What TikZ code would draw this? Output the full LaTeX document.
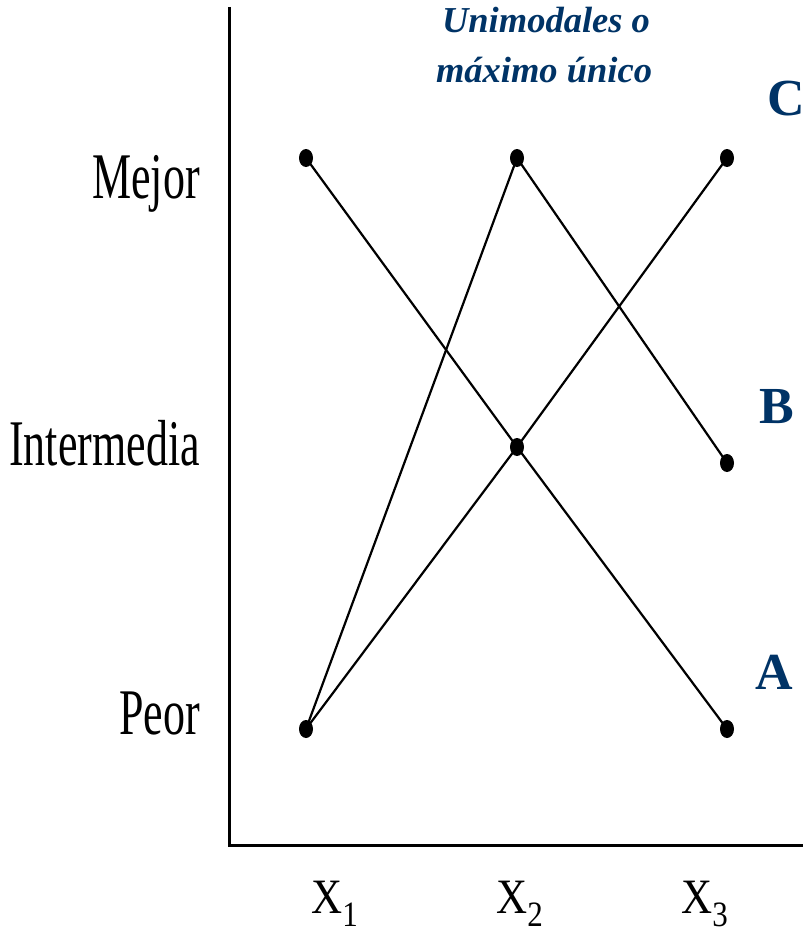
\documentclass[tikz,border=0pt]{standalone}
\usepackage{fontspec}
\setmainfont{Liberation Serif}
\usetikzlibrary{shapes.geometric}
\definecolor{titleblue}{RGB}{0,51,102}
\tikzset{
  dot/.style={ellipse,fill=black,inner sep=0pt,minimum width=14pt,minimum height=18pt},
  link/.style={line width=2.2pt},
  axisline/.style={line width=3pt},
  ylab/.style={anchor=base east,inner sep=0pt},
  xlab/.style={anchor=base west,inner sep=0pt},
  series/.style={anchor=base west,inner sep=0pt,text=titleblue,font=\fontsize{52}{52}\selectfont\bfseries},
  head/.style={anchor=base,inner sep=0pt,text=titleblue,font=\fontsize{36.5}{36.5}\selectfont\bfseries\itshape}
}
\newcommand{\ylabtext}[1]{\scalebox{1}[1.48]{\fontsize{44}{44}\selectfont #1}}
\newcommand{\xlabtext}[1]{\scalebox{1}[1.15]{\fontsize{43}{43}\selectfont X\raisebox{-12pt}{\fontsize{31}{31}\selectfont #1}}}
\begin{document}
\begin{tikzpicture}[x=1pt,y=-1pt]
\useasboundingbox (0,0) rectangle (803,934);
% axes
\coordinate (top) at (229,7);
\coordinate (origin) at (229,845);
\coordinate (right) at (803,845);
\draw[axisline] (top) -- (origin) -- (right);
% axis labels
\node[ylab] (mejor) at (200,198) {\ylabtext{Mejor}};
\node[ylab] (inter) at (200,465) {\ylabtext{Intermedia}};
\node[ylab] (peor) at (200,734) {\ylabtext{Peor}};
\node[xlab] (x1) at (311,913) {\xlabtext{1}};
\node[xlab] (x2) at (496,913) {\xlabtext{2}};
\node[xlab] (x3) at (681,913) {\xlabtext{3}};
% title
\node[head] (t1) at (546,33) {Unimodales o};
\node[head] (t2) at (544,82) {máximo único};
% series labels
\node[series] (lc) at (767,115) {C};
\node[series] (lb) at (759,423) {B};
\node[series] (la) at (755,689) {A};
% points
\node[dot] (a1) at (306,158) {};
\node[dot] (a2) at (517,447) {};
\node[dot] (a3) at (727,729) {};
\node[dot] (b1) at (306,729) {};
\node[dot] (b2) at (517,158) {};
\node[dot] (b3) at (727,463) {};
\node[dot] (c3) at (727,158) {};
% connectors
\draw[link] (a1.center) -- (a2.center) -- (a3.center);
\draw[link] (b1.center) -- (b2.center) -- (b3.center);
\draw[link] (b1.center) -- (a2.center) -- (c3.center);
\end{tikzpicture}
\end{document}
